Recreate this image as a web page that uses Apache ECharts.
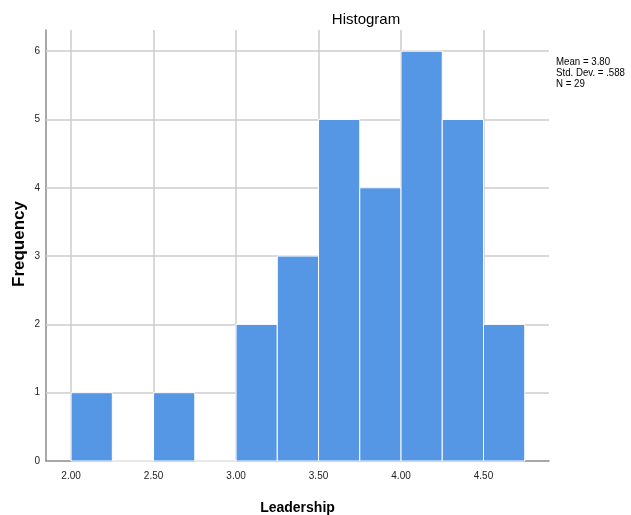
<!DOCTYPE html>
<html><head><meta charset="utf-8">
<script src="https://cdn.jsdelivr.net/npm/echarts@6/dist/echarts.min.js"></script>
<style>html,body{margin:0;padding:0;background:#fff}#c{width:631px;height:515px}</style>
</head><body><div id="c"></div>
<script>
var binStarts = [2.00, 2.25, 2.50, 2.75, 3.00, 3.25, 3.50, 3.75, 4.00, 4.25, 4.50];
var counts    = [1, 0, 1, 0, 2, 3, 5, 4, 6, 5, 2];
var binWidth = 0.25;
var xTicks = [2.00, 2.50, 3.00, 3.50, 4.00, 4.50];
var yTicks = [0, 1, 2, 3, 4, 5, 6];
var statsLines = ['Mean = 3.80', 'Std. Dev. = .588', 'N = 29'];
var yTitle = 'Frequency';

var chart = echarts.init(document.getElementById('c'));
var barData = binStarts.map(function (s, i) { return [s, s + binWidth, counts[i]]; });
var font = '"Liberation Sans", Arial, sans-serif';
var gridColor = '#cccccc';
chart.setOption({
  animation: false,
  title: {
    text: 'Histogram', left: 361, top: 7, textAlign: 'center',
    textStyle: { fontFamily: font, fontSize: 15, fontWeight: 'normal', color: '#000' }
  },
  graphic: [{
    type: 'text', left: 556, top: 56, scaleX: 0.88,
    style: { text: statsLines.join('\n'), font: '11px ' + font, fill: '#000', lineHeight: 11 }
  }, {
    type: 'text', x: 19, y: 244, rotation: Math.PI / 2,
    style: { text: yTitle, font: 'bold 17px ' + font, fill: '#000', align: 'center', verticalAlign: 'middle' }
  }],
  grid: { left: 46, right: 82, top: 30, bottom: 54, outerBoundsMode: 'none', containLabel: false },
  xAxis: {
    type: 'value', min: 1.848, max: 4.897,
    name: 'Leadership', nameLocation: 'middle', nameGap: 40, nameMoveOverlap: false,
    nameTextStyle: { fontFamily: font, fontSize: 14, fontWeight: 'bold', color: '#000' },
    axisLine: { lineStyle: { color: '#8c8c8c', width: 1.5 } },
    axisTick: { show: false },
    splitLine: { show: false },
    axisLabel: {
      customValues: xTicks, fontFamily: font, fontSize: 10, color: '#222', margin: 10,
      formatter: function (v) { return v.toFixed(2); }
    }
  },
  yAxis: {
    type: 'value', min: 0, max: 6.31,
    axisLine: { show: true, lineStyle: { color: '#8c8c8c', width: 1.5 } },
    axisTick: { show: false },
    splitLine: { show: false },
    axisLabel: {
      customValues: yTicks, fontFamily: font, fontSize: 10, color: '#222', margin: 6
    }
  },
  series: [
    {
      type: 'line', data: [], z: 1, silent: true,
      markLine: {
        z: 1, silent: true, symbol: 'none', label: { show: false },
        lineStyle: { color: gridColor, width: 1.5, type: 'solid' },
        data: xTicks.map(function (t) { return { xAxis: t }; })
          .concat(yTicks.slice(1).map(function (t) { return { yAxis: t }; }))
      }
    },
    {
      type: 'custom', z: 10,
      renderItem: function (params, api) {
        var p0 = api.coord([api.value(0), api.value(2)]);
        var p1 = api.coord([api.value(1), 0]);
        return {
          type: 'rect',
          shape: { x: p0[0], y: p0[1], width: p1[0] - p0[0], height: p1[1] - p0[1] },
          style: { fill: '#5596e5', stroke: '#ffffff', lineWidth: 1 }
        };
      },
      encode: { x: [0, 1], y: 2 },
      data: barData
    }
  ]
});
</script></body></html>
